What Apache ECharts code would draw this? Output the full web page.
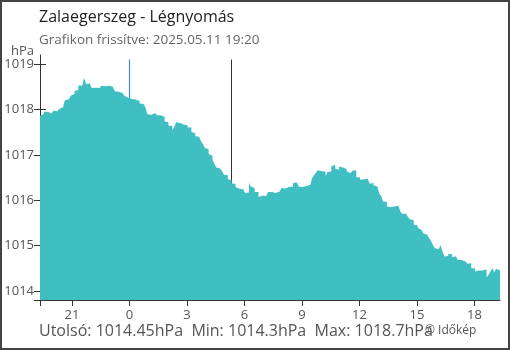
<!DOCTYPE html>
<html>
<head>
<meta charset="utf-8">
<script src="https://cdn.jsdelivr.net/npm/echarts@6/dist/echarts.min.js"></script>
<style>
html, body { margin: 0; padding: 0; background: #fff; }
#wrap { position: relative; width: 510px; height: 350px; }
#chart { position: absolute; left: 0; top: 0; width: 510px; height: 350px; }
#frame { position: absolute; left: 0; top: 0; width: 510px; height: 350px; box-sizing: border-box; border: 2px solid #444; pointer-events: none; }
</style>
</head>
<body>
<div id="wrap"><div id="chart"></div><div id="frame"></div></div>
<script>
// idő: órák éjfélhez képest (negatív = előző este)
var startHour = -14 / 3;   // 19:20 előző nap
var endHour = 58 / 3;      // 19:20
var stepHour = 0.1;        // 6 percenként egy mérés

// légnyomás, hPa
var pressure = [
	1017.86, 1017.90, 1017.95, 1017.95, 1017.92, 1017.91, 1017.92, 1017.97, 1017.96, 1017.93,
	1018.01, 1018.05, 1018.04, 1018.20, 1018.22, 1018.25, 1018.30, 1018.34, 1018.40, 1018.43,
	1018.53, 1018.52, 1018.54, 1018.70, 1018.56, 1018.57, 1018.55, 1018.47, 1018.48, 1018.46,
	1018.47, 1018.49, 1018.52, 1018.51, 1018.53, 1018.52, 1018.54, 1018.50, 1018.49, 1018.40,
	1018.39, 1018.38, 1018.36, 1018.34, 1018.30, 1018.26, 1018.25, 1018.23, 1018.23, 1018.22,
	1018.19, 1018.18, 1018.13, 1018.12, 1018.10, 1018.05, 1017.90, 1017.88, 1017.88, 1017.92,
	1017.92, 1017.87, 1017.87, 1017.86, 1017.84, 1017.74, 1017.72, 1017.64, 1017.64, 1017.55,
	1017.60, 1017.72, 1017.70, 1017.66, 1017.67, 1017.66, 1017.65, 1017.60, 1017.60, 1017.50,
	1017.48, 1017.41, 1017.40, 1017.36, 1017.30, 1017.24, 1017.15, 1017.12, 1017.02, 1016.98,
	1016.89, 1016.80, 1016.72, 1016.70, 1016.67, 1016.64, 1016.56, 1016.55, 1016.46, 1016.44,
	1016.37, 1016.36, 1016.29, 1016.25, 1016.26, 1016.24, 1016.25, 1016.16, 1016.17, 1016.38,
	1016.30, 1016.27, 1016.18, 1016.18, 1016.07, 1016.10, 1016.14, 1016.09, 1016.10, 1016.18,
	1016.18, 1016.14, 1016.16, 1016.18, 1016.19, 1016.18, 1016.27, 1016.26, 1016.29, 1016.29,
	1016.29, 1016.30, 1016.38, 1016.39, 1016.38, 1016.30, 1016.29, 1016.31, 1016.31, 1016.32,
	1016.34, 1016.35, 1016.49, 1016.55, 1016.61, 1016.66, 1016.64, 1016.62, 1016.63, 1016.53,
	1016.62, 1016.64, 1016.74, 1016.78, 1016.70, 1016.67, 1016.74, 1016.72, 1016.70, 1016.69,
	1016.64, 1016.60, 1016.58, 1016.65, 1016.66, 1016.51, 1016.50, 1016.45, 1016.46, 1016.46,
	1016.47, 1016.47, 1016.36, 1016.38, 1016.33, 1016.30, 1016.30, 1016.15, 1016.10, 1015.97,
	1015.96, 1015.86, 1015.85, 1015.83, 1015.86, 1015.86, 1015.88, 1015.87, 1015.75, 1015.70,
	1015.70, 1015.66, 1015.63, 1015.58, 1015.56, 1015.46, 1015.45, 1015.39, 1015.35, 1015.33,
	1015.27, 1015.24, 1015.20, 1015.16, 1015.10, 1015.01, 1014.94, 1014.92, 1014.90, 1015.01,
	1014.87, 1014.76, 1014.77, 1014.82, 1014.81, 1014.75, 1014.76, 1014.74, 1014.68, 1014.68,
	1014.64, 1014.65, 1014.63, 1014.60, 1014.61, 1014.50, 1014.50, 1014.43, 1014.45, 1014.46,
	1014.45, 1014.41, 1014.48, 1014.30, 1014.35, 1014.43, 1014.50, 1014.41, 1014.49, 1014.45
];

var xTicks = [-3, 0, 3, 6, 9, 12, 15, 18];
var yTicks = [1014, 1015, 1016, 1017, 1018, 1019];
var midnightHour = 0;
var sunriseHour = 5.33;   // napkelte

var lastValue = pressure[pressure.length - 1];
var minValue = Math.min.apply(null, pressure);
var maxValue = Math.max.apply(null, pressure);
var yMin = minValue - 0.5;
var yMax = maxValue + 0.5;

// lépcsős terület: minden mérés a saját 6 perces sávját tölti ki
var seriesData = [];
for (var i = 0; i < pressure.length; i++) {
	seriesData.push([startHour + stepHour * i, pressure[i]]);
}
seriesData.push([endHour, lastValue]);

var myChart = echarts.init(document.getElementById('chart'));
var option = {
	animation: false,
	textStyle: { fontFamily: 'Open Sans' },
	title: [{
		text: 'Zalaegerszeg - Légnyomás',
		subtext: 'Grafikon frissítve: 2025.05.11 19:20',
		left: 34,
		top: 4,
		itemGap: 8,
		textStyle: { fontSize: 16, fontWeight: 'normal', color: '#222' },
		subtextStyle: { fontSize: 13.5, color: '#666' }
	}, {
		text: 'Utolsó: ' + lastValue + 'hPa  Min: ' + minValue + 'hPa  Max: ' + maxValue + 'hPa',
		left: 34,
		top: 318,
		textStyle: { fontSize: 16, fontWeight: 'normal', color: '#555' }
	}, {
		text: '© Időkép',
		left: 420,
		top: 320,
		textStyle: { fontSize: 12, fontWeight: 'normal', color: '#555' }
	}],
	grid: { left: 40, right: 10, top: 55, bottom: 50 },
	xAxis: {
		type: 'value',
		min: startHour,
		max: endHour,
		axisLine: { onZero: false, lineStyle: { color: '#333' } },
		axisTick: { length: 6, lineStyle: { color: '#333' }, customValues: [startHour].concat(xTicks) },
		axisLabel: {
			customValues: xTicks,
			margin: 9,
			fontSize: 13,
			color: '#555',
			formatter: function(v) {
				return String(((Math.round(v) % 24) + 24) % 24);
			}
		},
		splitLine: { show: false }
	},
	yAxis: [{
		type: 'value',
		min: yMin,
		max: yMax,
		name: 'hPa',
		nameLocation: 'end',
		nameGap: -5,
		nameTextStyle: { fontSize: 13, color: '#555', align: 'right', padding: [0, 6, 0, 0] },
		axisLine: { show: true, onZero: false, lineStyle: { color: '#333' } },
		axisTick: { show: true, length: 6, lineStyle: { color: '#333' }, customValues: [yMin].concat(yTicks) },
		axisLabel: {
			customValues: yTicks,
			margin: 6,
			fontSize: 13,
			color: '#555',
			formatter: function(v) { return String(v); }
		},
		splitLine: { show: false }
	}, {
		type: 'value',
		min: yMin,
		max: yMax,
		position: 'left',
		axisLine: { show: false, onZero: false },
		axisTick: { show: true, inside: true, length: 6, lineStyle: { color: '#333' }, customValues: yTicks },
		axisLabel: { show: false },
		splitLine: { show: false }
	}],
	series: [{
		type: 'line',
		data: seriesData,
		step: 'end',
		symbol: 'none',
		z: 2,
		lineStyle: { width: 0 },
		areaStyle: { color: '#40bfc2', opacity: 1, origin: 'start' },
		markLine: {
			z: 1,
			silent: true,
			symbol: 'none',
			label: { show: false },
			lineStyle: { color: '#3d8dd0', width: 1.2, type: 'solid' },
			data: [
				[{ coord: [midnightHour, yMax - 0.1] }, { coord: [midnightHour, yMin] }],
				[{ coord: [sunriseHour, yMax - 0.1], lineStyle: { color: '#333', width: 1, type: 'solid' } }, { coord: [sunriseHour, yMin] }]
			]
		}
	}]
};
myChart.setOption(option);
</script>
</body>
</html>
